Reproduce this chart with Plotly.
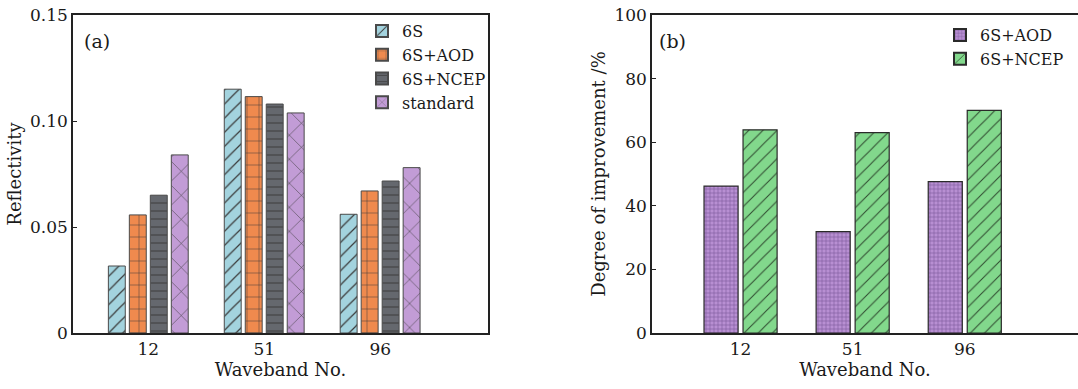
import plotly.graph_objects as go

# ---------------- data ----------------
bands = ["12", "51", "96"]

refl_6s = [0.0316, 0.115, 0.056]
refl_aod = [0.0557, 0.1115, 0.067]
refl_ncep = [0.065, 0.108, 0.0717]
refl_std = [0.084, 0.1038, 0.078]

impr_aod = [46.2, 31.9, 47.6]
impr_ncep = [63.9, 63.0, 70.0]

yticks_a = [0, 0.05, 0.10, 0.15]
yticklabels_a = ["0", "0.05", "0.10", "0.15"]
yticks_b = [0, 20, 40, 60, 80, 100]

# ---------------- styling ----------------
FONT = "DejaVu Serif"
TXT = "#1a1a1a"
W, H = 1078, 389
ML, MT, MB, MR = 73, 15, 56, 0
PW, PH = W - ML - MR, H - MT - MB
EDGE = "#4a4a4a"


def px_x(p):
    return (p - ML) / PW


def px_y(p):
    return 1 - (p - MT) / PH


fig = go.Figure()

left_series = [
    ("6S", refl_6s, "#a3d3de", "/", 10, 0.12),
    ("6S+AOD", refl_aod, "#ef8a4e", "+", 12, 0.08),
    ("6S+NCEP", refl_ncep, "#65686e", "-", 8, 0.12),
    ("standard", refl_std, "#c29cd6", "x", 17, 0.06),
]
left_offsets = [-0.345, -0.164, 0.017, 0.198]
for (name, vals, col, shp, sz, sol), off in zip(left_series, left_offsets):
    fig.add_trace(go.Bar(
        x=bands, y=vals, name=name, xaxis="x", yaxis="y",
        offset=off, width=0.146, legend="legend",
        marker=dict(color=col, line=dict(color=EDGE, width=1),
                    pattern=dict(shape=shp, size=sz, solidity=sol,
                                 fgcolor="#3a3a3a", bgcolor=col,
                                 fillmode="replace")),
    ))

right_series = [
    ("6S+AOD", impr_aod, "#b88fd2", "+", 4, 0.28, "#7e5a9a"),
    ("6S+NCEP", impr_ncep, "#82d88c", "/", 10, 0.1, "#2f4a30"),
]
right_offsets = [-0.326, 0.022]
for (name, vals, col, shp, sz, sol, fg), off in zip(right_series, right_offsets):
    fig.add_trace(go.Bar(
        x=bands, y=vals, name=name, xaxis="x2", yaxis="y2",
        offset=off, width=0.304, legend="legend2",
        marker=dict(color=col, line=dict(color="#2a2a2a", width=1.2),
                    pattern=dict(shape=shp, size=sz, solidity=sol,
                                 fgcolor=fg, bgcolor=col,
                                 fillmode="replace")),
    ))

axis_common = dict(showline=True, linecolor="#222", linewidth=1.5,
                   showgrid=False, zeroline=False, automargin=False,
                   tickfont=dict(family=FONT, size=17, color=TXT))
title_font = dict(family=FONT, size=18, color=TXT)

fig.update_layout(
    width=W, height=H,
    margin=dict(l=ML, r=MR, t=MT, b=MB, pad=0),
    paper_bgcolor="white", plot_bgcolor="white",
    barmode="overlay",
    font=dict(family=FONT, color=TXT),
    xaxis=dict(domain=[0, px_x(488)], range=[-0.65, 2.93],
               type="category", mirror=True, ticks="",
               title=dict(text="Waveband No.", font=title_font, standoff=4),
               anchor="y", **axis_common),
    yaxis=dict(domain=[0, 1], range=[0, 0.15], tickvals=yticks_a,
               ticktext=yticklabels_a, mirror=True, ticks="inside",
               ticklen=4, tickcolor="#222",
               title=dict(text="Reflectivity", font=title_font, standoff=4),
               anchor="x", **axis_common),
    xaxis2=dict(domain=[px_x(652), 1.0], range=[-0.79, 3.01],
                type="category", mirror=True, ticks="",
                title=dict(text="Waveband No.", font=title_font, standoff=4),
                anchor="y2", **axis_common),
    yaxis2=dict(domain=[0, 1], range=[0, 100], tickvals=yticks_b,
                mirror=False, ticks="inside", ticklen=4, tickcolor="#222",
                title=dict(text="Degree of improvement /%",
                           font=title_font, standoff=4),
                anchor="x2", **axis_common),
    legend=dict(x=px_x(362), y=px_y(14), xanchor="left", yanchor="top",
                font=dict(family=FONT, size=16, color=TXT),
                bgcolor="rgba(0,0,0,0)", tracegroupgap=0,
                itemsizing="constant"),
    legend2=dict(x=px_x(940), y=px_y(18), xanchor="left", yanchor="top",
                 font=dict(family=FONT, size=16, color=TXT),
                 bgcolor="rgba(0,0,0,0)", tracegroupgap=0,
                 itemsizing="constant"),
    annotations=[
        dict(text="(a)", x=px_x(82), y=px_y(41), xref="paper", yref="paper",
             xanchor="left", yanchor="middle", showarrow=False,
             font=dict(family=FONT, size=19, color=TXT)),
        dict(text="(b)", x=px_x(657), y=px_y(41), xref="paper", yref="paper",
             xanchor="left", yanchor="middle", showarrow=False,
             font=dict(family=FONT, size=19, color=TXT)),
    ],
)

fig.write_html("out.html")
